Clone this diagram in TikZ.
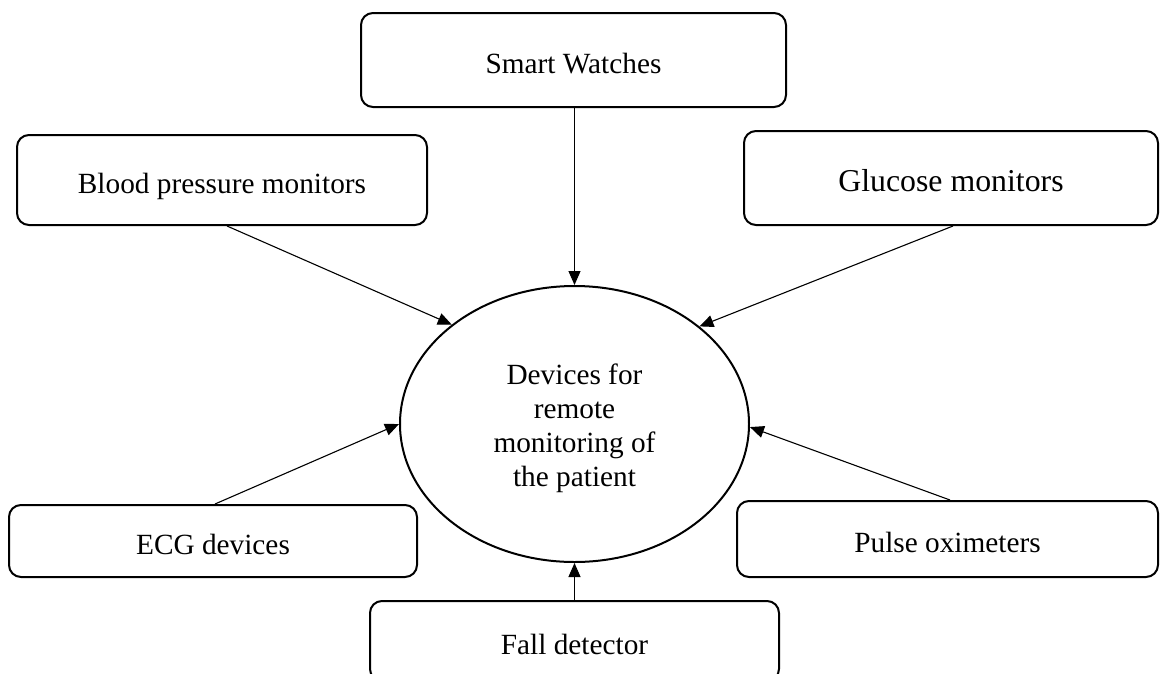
\documentclass[tikz,border=0pt]{standalone}
\usepackage{fontspec}
\setmainfont{Liberation Serif}
\usetikzlibrary{arrows.meta,shapes.geometric}

\tikzset{
  device/.style={draw, line width=2pt, rounded corners=12pt, align=center,
    inner sep=0pt, text height=28pt, text depth=2pt,
    font=\fontsize{29.3}{34}\selectfont},
  hub/.style={draw, ellipse, line width=2pt, inner sep=0pt,
    minimum width=349pt, minimum height=276pt},
  hubtext/.style={align=center, inner sep=0pt,
    font=\fontsize{29.3}{34}\selectfont},
  feed/.style={line width=1.1pt, -{Triangle[length=14pt,width=12pt]}}
}

\begin{document}
\begin{tikzpicture}[x=1pt,y=-1pt]
\useasboundingbox (0,0) rectangle (1160,673);
\begin{scope}
\clip (0,0) rectangle (1160,673);

% central concept
\node[hub] (c) at (574.5,424) {};
\node[hubtext] (ctext) at ([yshift=-4pt]c.center) {Devices for\\remote\\monitoring of\\the patient};

% surrounding device types
\node[device, minimum width=425pt, minimum height=94pt] (sw) at (573.5,60) {Smart Watches};
\node[device, minimum width=410pt, minimum height=90pt] (bp) at (222,180) {Blood pressure monitors};
\node[device, minimum width=414pt, minimum height=94pt, font=\fontsize{31.8}{36}\selectfont] (gl) at (951,178) {Glucose monitors};
\node[device, minimum width=408pt, minimum height=72pt] (ecg) at (213,541) {ECG devices};
\node[device, minimum width=421pt, minimum height=76pt] (po) at (947.5,539) {Pulse oximeters};
\node[device, minimum width=409pt, minimum height=80pt] (fd) at (574.5,641) {Fall detector};

% connectors into the central ellipse
\draw[feed] (sw.south -| c.north) -- (c.north);
\draw[feed] ([xshift=5pt]bp.south) -- (c.141);
\draw[feed] ([xshift=2pt]gl.south) -- (c.38.8);
\draw[feed] ([xshift=2pt]ecg.north) -- (c.west);
\draw[feed] ([xshift=2.5pt]po.north) -- (c.359);
\draw[feed] (fd.north) -- (c.south);
\end{scope}
\end{tikzpicture}
\end{document}
